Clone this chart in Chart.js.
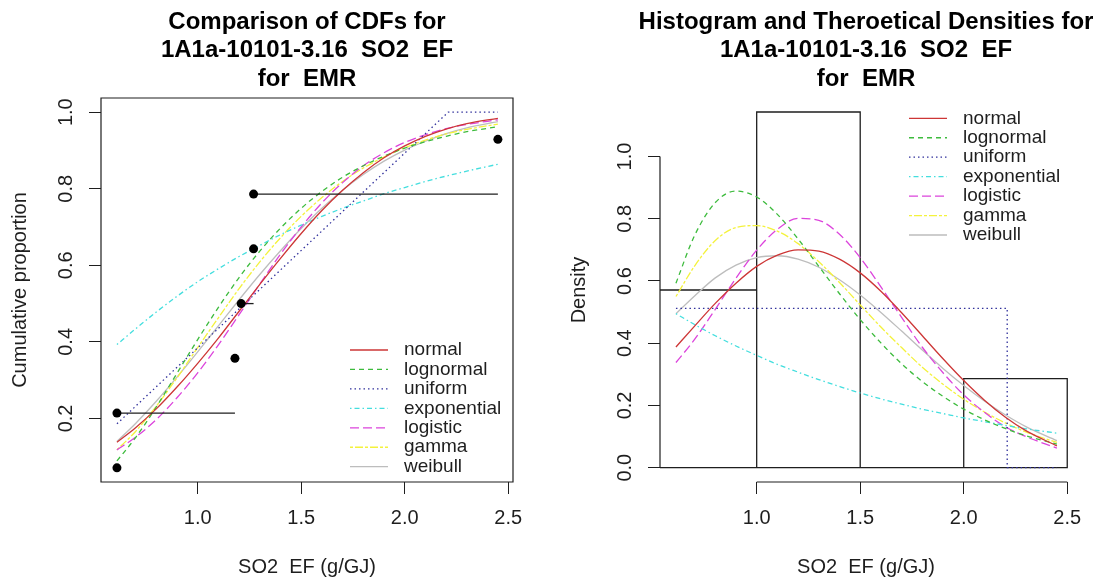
<!DOCTYPE html>
<html>
<head>
<meta charset="utf-8">
<script src="https://cdn.jsdelivr.net/npm/chart.js@4.4.1/dist/chart.umd.min.js"></script>
<style>
  html, body { margin: 0; padding: 0; background: #fff; overflow: hidden; }
  body { width: 1099px; height: 578px; position: relative; }
  .panel { position: absolute; top: 0; width: 614px; height: 578px; }
  #cdfPanel { left: 0; }
  #densPanel { left: 559px; }
</style>
</head>
<body>
<div class="panel" id="cdfPanel"><canvas id="cdfChart" width="614" height="578"></canvas></div>
<div class="panel" id="densPanel"><canvas id="densChart" width="614" height="578"></canvas></div>
<script>
// values
const xTicks = [1.0, 1.5, 2.0, 2.5];
const cdfTicks = [0.2, 0.4, 0.6, 0.8, 1.0];
const densTicks = [0.0, 0.2, 0.4, 0.6, 0.8, 1.0];

const distNames = ['normal', 'lognormal', 'uniform', 'exponential', 'logistic', 'gamma', 'weibull'];

const gridX = [0.61, 0.7, 0.8, 0.9, 1.0, 1.1, 1.2, 1.3, 1.4, 1.5, 1.6, 1.7, 1.8, 1.9, 2.0, 2.1, 2.2, 2.3, 2.45];

const cdfNormal      = [0.138, 0.176, 0.225, 0.282, 0.344, 0.410, 0.480, 0.550, 0.618, 0.683, 0.743, 0.796, 0.842, 0.881, 0.912, 0.937, 0.956, 0.970, 0.984];
const cdfLognormal   = [0.089, 0.150, 0.230, 0.318, 0.406, 0.490, 0.568, 0.637, 0.697, 0.749, 0.793, 0.830, 0.860, 0.885, 0.906, 0.923, 0.937, 0.949, 0.962];
const cdfExponential = [0.393, 0.434, 0.478, 0.519, 0.557, 0.591, 0.623, 0.652, 0.680, 0.705, 0.728, 0.749, 0.768, 0.787, 0.803, 0.819, 0.833, 0.846, 0.864];
const cdfLogistic    = [0.118, 0.151, 0.197, 0.254, 0.319, 0.392, 0.471, 0.551, 0.629, 0.700, 0.763, 0.816, 0.860, 0.894, 0.921, 0.941, 0.957, 0.968, 0.980];
const cdfGamma       = [0.118, 0.166, 0.232, 0.306, 0.385, 0.463, 0.539, 0.609, 0.672, 0.728, 0.777, 0.819, 0.854, 0.883, 0.907, 0.927, 0.943, 0.955, 0.969];
const cdfWeibull     = [0.140, 0.187, 0.245, 0.308, 0.374, 0.442, 0.510, 0.576, 0.638, 0.696, 0.749, 0.796, 0.837, 0.872, 0.901, 0.924, 0.944, 0.959, 0.975];
const cdfUniformX = [0.61, 2.21, 2.45];
const cdfUniform  = [0.186, 1.0, 1.0];

const densNormal      = [0.388, 0.455, 0.528, 0.593, 0.647, 0.683, 0.700, 0.696, 0.670, 0.626, 0.567, 0.498, 0.424, 0.350, 0.280, 0.217, 0.163, 0.119, 0.070];
const densLognormal   = [0.593, 0.746, 0.852, 0.889, 0.870, 0.814, 0.735, 0.647, 0.559, 0.476, 0.401, 0.334, 0.277, 0.229, 0.188, 0.154, 0.126, 0.103, 0.076];
const densExponential = [0.495, 0.460, 0.424, 0.391, 0.361, 0.332, 0.307, 0.283, 0.261, 0.240, 0.221, 0.204, 0.188, 0.174, 0.160, 0.148, 0.136, 0.125, 0.111];
const densLogistic    = [0.338, 0.412, 0.509, 0.609, 0.699, 0.766, 0.801, 0.795, 0.750, 0.675, 0.581, 0.483, 0.387, 0.305, 0.234, 0.178, 0.132, 0.100, 0.063];
const densGamma       = [0.550, 0.648, 0.730, 0.772, 0.778, 0.760, 0.720, 0.662, 0.595, 0.523, 0.452, 0.386, 0.323, 0.268, 0.220, 0.179, 0.144, 0.115, 0.081];
const densWeibull     = [0.495, 0.552, 0.610, 0.651, 0.675, 0.681, 0.670, 0.644, 0.604, 0.555, 0.499, 0.439, 0.378, 0.319, 0.264, 0.214, 0.170, 0.132, 0.087];
const densUniformX = [0.61, 2.21, 2.21, 2.45];
const densUniform  = [0.512, 0.512, 0.0, 0.0];

// observed values and their plotting positions
const obsX = [0.61, 0.61, 1.18, 1.21, 1.27, 1.27, 2.45];
const obsP = [0.071, 0.214, 0.357, 0.500, 0.643, 0.786, 0.929];
const stepFrom  = [0.61, 1.21, 1.27];
const stepTo    = [1.18, 1.27, 2.45];
const stepLevel = [0.214, 0.500, 0.786];

// histogram
const binEdges = [0.5, 1.0, 1.5, 2.0, 2.5];
const binDensity = [0.571, 1.143, 0.0, 0.286];

// styles
const distColors = ['#cd3636', '#3dbb3d', '#30309c', '#44dede', '#dc44dc', '#f4f23c', '#bdbdbd'];
const distDashes = [[], [5, 4], [1.5, 3], [1.5, 3, 5, 3], [9, 4], [3, 2, 8, 2], []];
const ink = '#1e1e1e';
const fontFamily = '"Liberation Sans", Arial, Helvetica, sans-serif';

Chart.defaults.font.family = fontFamily;
Chart.defaults.color = ink;

function pts(xs, ys) {
    return xs.map((x, i) => ({ x: x, y: ys[i] }));
}

function curve(i, xs, ys) {
    return {
        label: distNames[i],
        dist: true,
        data: pts(xs, ys),
        showLine: true,
        borderColor: distColors[i],
        borderDash: distDashes[i],
        borderWidth: 1.3,
        pointRadius: 0,
        tension: 0,
        cubicInterpolationMode: xs.length > 4 ? 'monotone' : 'default'
    };
}

// R-like legend drawn inside the plot region
const rLegend = {
    id: 'rLegend',
    afterDraw(chart, args, opts) {
        const ctx = chart.ctx;
        const area = chart.chartArea;
        let y = opts.fromBottom ? area.bottom - opts.offset : area.top + opts.offset;
        const x0 = area.right - 163;
        ctx.save();
        ctx.font = '19px ' + fontFamily;
        ctx.textBaseline = 'middle';
        ctx.textAlign = 'left';
        chart.data.datasets.filter(d => d.dist).forEach(d => {
            ctx.strokeStyle = d.borderColor;
            ctx.lineWidth = 1.3;
            ctx.setLineDash(d.borderDash);
            ctx.beginPath();
            ctx.moveTo(x0, y);
            ctx.lineTo(x0 + 38, y);
            ctx.stroke();
            ctx.setLineDash([]);
            ctx.fillStyle = ink;
            ctx.fillText(d.label, x0 + 54, y);
            y += 19.45;
        });
        ctx.restore();
    }
};

// box round the plot, or R style axis lines from first to last tick
const rFrame = {
    id: 'rFrame',
    afterDraw(chart, args, opts) {
        const ctx = chart.ctx;
        const a = chart.chartArea;
        const xs = chart.scales.x, ys = chart.scales.y;
        ctx.save();
        ctx.strokeStyle = ink;
        ctx.lineWidth = 1.2;
        ctx.beginPath();
        if (opts.box) {
            ctx.rect(a.left, a.top, a.right - a.left, a.bottom - a.top);
        } else {
            ctx.moveTo(xs.getPixelForValue(xs.ticks[0].value), a.bottom);
            ctx.lineTo(xs.getPixelForValue(xs.ticks[xs.ticks.length - 1].value), a.bottom);
            ctx.moveTo(a.left, ys.getPixelForValue(ys.ticks[0].value));
            ctx.lineTo(a.left, ys.getPixelForValue(ys.ticks[ys.ticks.length - 1].value));
        }
        ctx.stroke();
        ctx.restore();
    }
};

function makeOptions(titleLines, yMin, yMax, yTickValues, yTitle, legendOpts, box) {
    return {
        responsive: false,
        animation: false,
        layout: { padding: 0, autoPadding: false },
        plugins: {
            legend: { display: false },
            tooltip: { enabled: false },
            title: {
                display: true,
                text: titleLines,
                color: '#000',
                font: { size: 24, weight: 'bold', lineHeight: '28.5px' },
                padding: { top: 8, bottom: 4.5 }
            },
            rLegend: legendOpts,
            rFrame: { box: box }
        },
        scales: {
            x: {
                type: 'linear',
                bounds: 'data',
                min: 0.533,
                max: 2.523,
                afterBuildTicks: s => { s.ticks = xTicks.map(v => ({ value: v })); },
                afterFit: s => { s.height = 96; },
                border: { display: false },
                grid: { drawOnChartArea: false, drawTicks: true, tickLength: 12, color: ink },
                ticks: { font: { size: 20 }, padding: 12, maxRotation: 0, autoSkip: false, callback: v => v.toFixed(1) },
                title: { display: true, text: 'SO2  EF (g/GJ)', font: { size: 20, lineHeight: 1 }, padding: { top: 0, bottom: 1 } }
            },
            y: {
                type: 'linear',
                bounds: 'data',
                min: yMin,
                max: yMax,
                afterBuildTicks: s => { s.ticks = yTickValues.map(v => ({ value: v })); },
                afterFit: s => { s.width = 101; },
                border: { display: false },
                grid: { drawOnChartArea: false, drawTicks: true, tickLength: 12, color: ink },
                ticks: { font: { size: 20 }, minRotation: 90, maxRotation: 90, crossAlign: 'center', padding: 9, autoSkip: false, callback: v => v.toFixed(1) },
                title: { display: true, text: yTitle, font: { size: 20, lineHeight: 1 }, padding: { top: 10, bottom: 0 } }
            },
            pad: {
                type: 'linear',
                position: 'right',
                display: true,
                afterFit: s => { s.width = 101; },
                border: { display: false },
                grid: { display: false },
                ticks: { display: false }
            }
        }
    };
}

// left panel: CDFs
const cdfDatasets = [
    {
        data: pts(obsX, obsP),
        showLine: false,
        pointRadius: 4.5,
        pointBackgroundColor: '#000',
        pointBorderWidth: 0
    }
];
stepFrom.forEach((x0, i) => {
    cdfDatasets.push({
        data: [{ x: x0, y: stepLevel[i] }, { x: stepTo[i], y: stepLevel[i] }],
        showLine: true,
        borderColor: ink,
        borderWidth: 1.3,
        pointRadius: 0
    });
});
cdfDatasets.push(
    curve(0, gridX, cdfNormal),
    curve(1, gridX, cdfLognormal),
    curve(2, cdfUniformX, cdfUniform),
    curve(3, gridX, cdfExponential),
    curve(4, gridX, cdfLogistic),
    curve(5, gridX, cdfGamma),
    curve(6, gridX, cdfWeibull)
);

new Chart(document.getElementById('cdfChart'), {
    type: 'scatter',
    data: { datasets: cdfDatasets },
    options: makeOptions(
        ['Comparison of CDFs for', '1A1a-10101-3.16  SO2  EF', 'for  EMR'],
        0.034, 1.037, cdfTicks, 'Cumulative proportion',
        { fromBottom: true, offset: 132 }, true
    ),
    plugins: [rLegend, rFrame]
});

// right panel: histogram and densities
const histOutline = [];
binDensity.forEach((h, i) => {
    histOutline.push(
        { x: binEdges[i], y: 0 },
        { x: binEdges[i], y: h },
        { x: binEdges[i + 1], y: h },
        { x: binEdges[i + 1], y: 0 }
    );
});
histOutline.push({ x: binEdges[0], y: 0 });

const densDatasets = [
    curve(0, gridX, densNormal),
    curve(1, gridX, densLognormal),
    curve(2, densUniformX, densUniform),
    curve(3, gridX, densExponential),
    curve(4, gridX, densLogistic),
    curve(5, gridX, densGamma),
    curve(6, gridX, densWeibull),
    {
        data: histOutline,
        showLine: true,
        borderColor: ink,
        borderWidth: 1.3,
        pointRadius: 0,
        tension: 0
    }
];

new Chart(document.getElementById('densChart'), {
    type: 'scatter',
    data: { datasets: densDatasets },
    options: makeOptions(
        ['Histogram and Theroetical Densities for', '1A1a-10101-3.16  SO2  EF', 'for  EMR'],
        -0.046, 1.188, densTicks, 'Density',
        { fromBottom: false, offset: 20.3 }, false
    ),
    plugins: [rLegend, rFrame]
});
</script>
</body>
</html>
